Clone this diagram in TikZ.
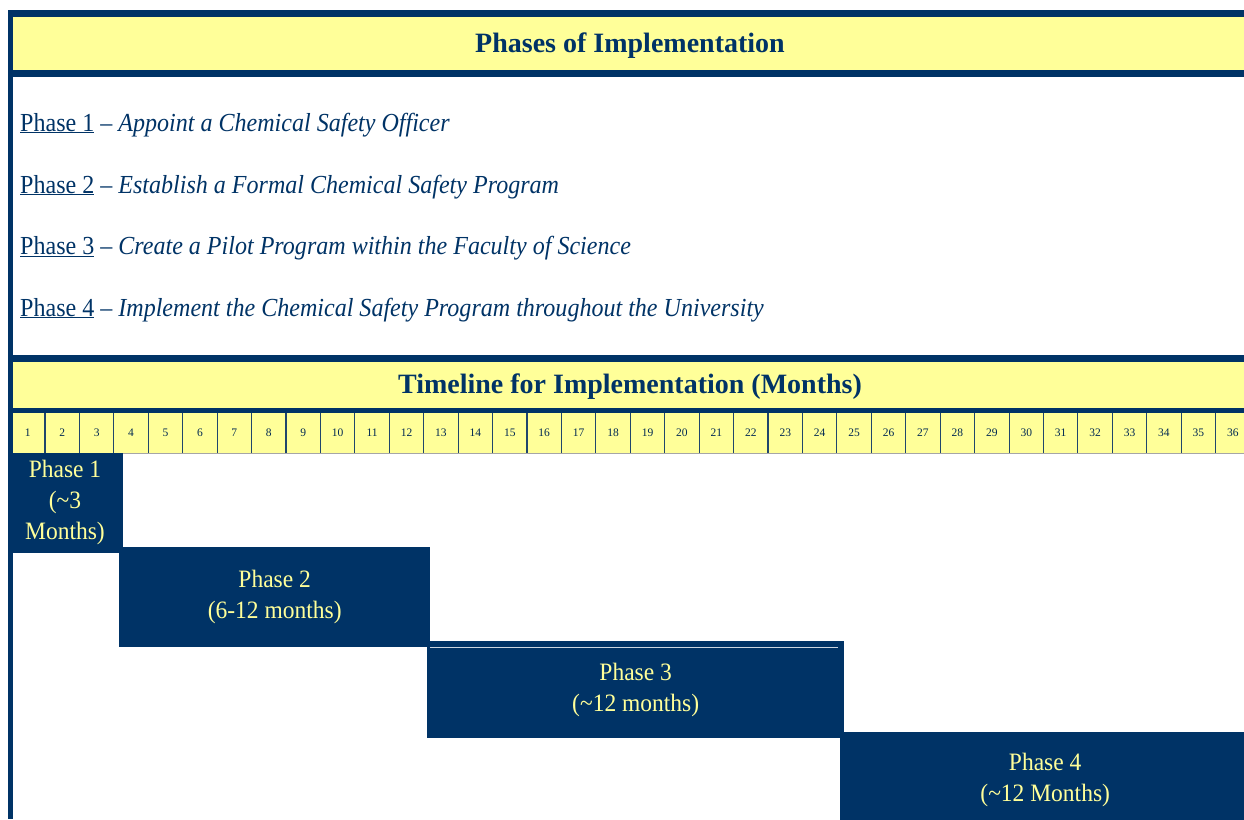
\documentclass[tikz,border=0pt]{standalone}
\usepackage{fontspec}
\setmainfont{Liberation Serif}
\newfontfamily\listfont[FakeStretch=0.925]{Liberation Serif}
\newfontfamily\boxfont[FakeStretch=0.94]{Liberation Serif}
\definecolor{navy}{RGB}{0,51,102}
\definecolor{pale}{RGB}{255,255,153}
\begin{document}
\begin{tikzpicture}[x=1pt,y=-1pt,
  titletext/.style={font=\bfseries\fontsize{28}{34}\selectfont, text=navy, inner sep=0pt},
  listtext/.style={font=\listfont\fontsize{26}{30}\selectfont, text=navy, anchor=base west, inner sep=0pt},
  monthtext/.style={font=\fontsize{11.5}{13}\selectfont, text=navy!80!black, inner sep=0pt},
  phasefont/.style={font=\boxfont\fontsize{25}{31}\selectfont, text=pale, align=center, inner sep=0pt},
  phasebox/.style={phasefont, fill=navy, draw=none, anchor=north west},
  band/.style={fill=navy},
  cellline/.style={draw=navy!75!gray, line width=1.1pt}
]
\useasboundingbox (0,0) rectangle (1244,819);
\clip (0,0) rectangle (1244,819);
\fill[white] (0,0) rectangle (1244,819);
% outer frame and header bands
\fill[band] (8,10) rectangle (13,819);
\fill[band] (8,10) rectangle (1250,17);
\fill[pale] (13,17) rectangle (1250,70);
\fill[band] (13,70) rectangle (1250,77);
\fill[band] (13,355) rectangle (1250,362);
\fill[pale] (13,362) rectangle (1250,408);
\fill[band] (13,408) rectangle (1250,413);
% titles
\node[titletext] (t1) at (630,46) {Phases of Implementation};
\node[titletext] (t2) at (630,387) {Timeline for Implementation (Months)};
% list of phases
\node[listtext] (l1) at (20,131) {\underline{Phase 1} – \textit{Appoint a Chemical Safety Officer}};
\node[listtext] (l2) at (20,193) {\underline{Phase 2} – \textit{Establish a Formal Chemical Safety Program}};
\node[listtext] (l3) at (20,254.5) {\underline{Phase 3} – \textit{Create a Pilot Program within the Faculty of Science}};
\node[listtext] (l4) at (20,316) {\underline{Phase 4} – \textit{Implement the Chemical Safety Program throughout the University}};
% month cells
\fill[pale] (13,413) rectangle (1250,453);
\foreach \i in {1,...,35} {
  \draw[cellline] ({10.57+\i*34.43},413) -- ({10.57+\i*34.43},453);
}
\draw[gray!70, line width=1pt] (13,453) -- (1250,453);
\foreach \i in {1,...,36} {
  \node[monthtext] (m\i) at ({10.57+(\i-0.5)*34.43},433) {\i};
}
% phase bars
\node[phasebox, minimum width=110pt, minimum height=100pt] (p1) at (13,453) {};
\node[phasefont] (p1t) at (65,502) {Phase 1\\(\textasciitilde3\\Months)};
\node[phasebox, minimum width=311pt, minimum height=100pt] (p2) at (119,547) {Phase 2\\(6-12 months)};
\node[phasebox, minimum width=417pt, minimum height=97pt] (p3) at (427,641) {Phase 3\\(\textasciitilde12 months)};
\draw[white!80!navy, line width=0.6pt] (430,647) -- (838,647);
\node[phasebox, minimum width=410pt, minimum height=96pt] (p4) at (840,732) {Phase 4\\(\textasciitilde12 Months)};
\end{tikzpicture}
\end{document}
